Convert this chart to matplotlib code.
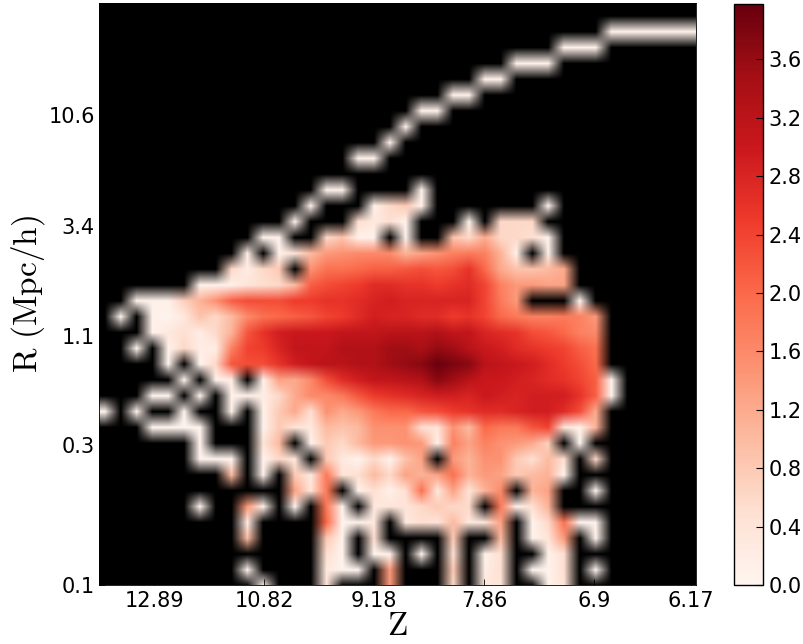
import numpy as np
import matplotlib
matplotlib.use("Agg")
import matplotlib.pyplot as plt

plt.rcParams["mathtext.fontset"] = "cm"

W = 804.0
H = 644.0

_ = np.nan
e = [_]

# log density, rows top to bottom, columns left to right
rows = [
    [],
    [],
    e * 32 + [.1, .1, .1, .1, .1, .1],
    e * 29 + [.1, .1, .1],
    e * 26 + [.1, .1, .1],
    e * 24 + [.1, .1],
    e * 22 + [.1, .1],
    e * 20 + [.1, .1],
    e * 19 + [.1],
    e * 18 + [.1],
    e * 16 + [.1, .1],
    [],
    e * 14 + [.1, .1, _, _, _, _, .1],
    e * 13 + [.1, _, _, _, .1, .6, .8, .1, _, _, _, _, _, _, _, .1],
    e * 12 + [.1, _, _, _, .5, .3, .5, .1, _, _, _, .1, _, .6, .6, .6],
    e * 10 + [.1, .1, _, _, .6, .9, .1, .1, _, .1, _, _, .9, .6, 1.2, .6, .6, .5, .1],
    e * 9 + [.2, _, .1, .4, 1.0, 1.4, 1.5, 1.6, 1.6, 1.6, 1.1, 1.3, 1.5, 1.7, 1.8, 1.7, 1.1, .1, _, .1],
    e * 8 + [.6, .2, .6, .8, _, 1.5, 1.9, 1.9, 2.0, 2.1, 2.1, 2.2, 2.3, 2.2, 2.3, 2.6, 2.0, 1.2, .9, .9, 1.0, 1.2],
    e * 6 + [.1, .1, .1, .4, .5, .6, 1.0, 2.1, 2.3, 2.4, 2.5, 2.7, 2.7, 2.6, 2.6, 2.5, 2.6, 2.7, 2.4, 1.7, 1.4, 1.4, 1.3, 1.3],
    e * 2 + [.1, .1, .1, .7, 1.1, 1.5, 2.1, 2.3, 2.3, 2.3, 2.5, 2.5, 2.6, 2.6, 2.7, 2.8, 2.9, 2.8, 2.8, 2.8, 2.8, 2.8, 2.4, 1.8, 1.4, _, _, _, .05],
    e * 1 + [.05, _, .1, .05, .3, .9, .6, 1.0, 1.6, 1.9, 2.0, 2.1, 2.2, 2.4, 2.5, 2.7, 2.9, 2.8, 2.8, 2.7, 2.7, 2.5, 2.6, 2.4, 2.0, 1.8, 1.7, 1.7, 1.8, 1.7, 1.4],
    e * 3 + [.1, .3, .5, .2, .6, 1.1, 2.2, 2.6, 2.9, 3.0, 3.0, 3.0, 3.1, 3.1, 3.1, 3.2, 3.2, 3.2, 3.3, 3.1, 3.1, 2.8, 2.7, 2.6, 2.3, 2.2, 2.0, 1.7, 1.6],
    e * 2 + [.05, _, .1, .6, .2, .2, 1.7, 2.4, 2.5, 2.8, 3.1, 3.1, 3.1, 3.3, 3.3, 3.3, 3.5, 3.5, 3.4, 3.6, 3.5, 3.2, 3.0, 2.9, 2.7, 2.6, 2.5, 2.4, 2.1, 1.9],
    e * 4 + [.05, _, .05, .6, 2.2, 2.3, 2.3, 2.6, 2.9, 3.1, 3.2, 3.2, 3.3, 3.3, 3.5, 3.6, 3.7, 3.95, 3.8, 3.7, 3.2, 3.1, 3.0, 2.9, 2.7, 2.5, 2.3, 2.0],
    e * 5 + [.05, _, .1, .2, _, .1, 1.3, 1.2, 1.6, 2.3, 2.7, 2.9, 3.1, 3.1, 3.2, 3.3, 3.7, 3.5, 3.2, 3.0, 3.0, 2.9, 2.8, 2.7, 2.6, 2.4, 2.1, .05],
    e * 3 + [.05, .05, _, .05, _, .1, .1, .2, .6, 1.2, 1.6, 1.6, 1.8, 2.2, 2.5, 2.6, 2.7, 2.8, 2.9, 2.9, 2.8, 3.0, 2.9, 2.8, 2.9, 2.9, 2.9, 2.6, 2.1, .05],
    [.05, _, .05, _, _, .05, _, _, .1, _, .1, .8, 1.2, .5, 1.5, 1.2, 1.4, 1.8, 2.0, 2.0, 2.2, 2.3, 2.5, 2.6, 2.7, 2.7, 2.8, 2.9, 2.9, 2.7, 2.3, 1.2],
    e * 3 + [.05, .05, .05, .05, _, _, _, .1, .8, .4, .3, 1.0, .9, 1.0, 1.5, 1.5, 1.5, .5, .4, 1.5, 1.0, 2.0, 1.8, 1.8, 2.2, 2.4, .4, .1, 1.1],
    e * 6 + [.05, _, _, _, .4, 1.0, _, .1, .8, .6, 1.0, 1.4, 1.4, 1.5, 1.4, .1, 1.7, 1.3, 1.7, 1.5, 1.4, 1.2, .7, _, .05],
    e * 6 + [.05, .05, .05, _, .05, .6, .3, _, .8, .3, .05, .6, .05, .9, 1.3, _, 1.4, 1.1, 1.5, 1.5, .8, .5, 1.0, .5, _, .6],
    e * 8 + [1.0, _, .1, _, .8, .3, 1.8, .4, .5, 1.0, .6, 1.3, 1.1, 1.3, 1.9, 1.1, 1.4, 1.3, .8, 1.0, 1.1, .05],
    e * 12 + [1.3, .4, 1.8, _, .1, .5, .1, .5, 1.9, .3, 1.3, .4, 1.1, 1.6, _, 1.1, 1.3, _, _, .05],
    e * 6 + [.05, _, _, 1.4, .1, _, .05, _, 1.8, .1, _, .3, .4, .4, .6, .8, .6, .6, _, 1.8, .1, .5, 1.1],
    e * 9 + [.2, _, _, _, _, 2.0, .05, .1, .3, _, .3, .5, .4, 1.0, .3, .4, 1.3, _, .05, .6, 1.9, .05, .1],
    e * 9 + [1.0, _, _, _, _, .8, .1, _, .5, _, _, _, _, .8, _, _, 1.0, _, .1, .4, 1.4, _, .05],
    e * 14 + [.5, .05, _, .05, .1, _, .05, _, .5, _, .1, .5, _, _, .1, .5],
    e * 9 + [.05, _, _, _, _, .3, .05, .05, _, 1.4, _, _, _, .8, _, .2, .5, _, .05, .05, .5, _, .05],
    e * 10 + [.05, _, _, _, .4, _, _, _, 1.4, _, _, _, .6, _, .3, .4, _, _, .1, .4],
]

z_ticks = [3.1, 10.04, 16.99, 23.94, 30.89, 37.0]
z_labels = ["12.89", "10.82", "9.18", "7.86", "6.9", "6.17"]
r_ticks = [7.25, 14.26, 21.21, 28.1, 36.95]
r_labels = ["10.6", "3.4", "1.1", "0.3", "0.1"]
cbar_ticks = [0.0, 0.4, 0.8, 1.2, 1.6, 2.0, 2.4, 2.8, 3.2, 3.6]

density = np.full((38, 38), np.nan)
for t, row in enumerate(rows):
    density[t, :len(row)] = row

cmap = plt.get_cmap("Reds").copy()
cmap.set_bad("black")

fig = plt.figure(figsize=(W / 100, H / 100), dpi=100)
ax = fig.add_axes([99 / W, 1 - 585 / H, 597 / W, 582 / H])
im = ax.imshow(np.ma.masked_invalid(density), cmap=cmap, vmin=0, vmax=3.98,
               aspect="auto", interpolation="bilinear", interpolation_stage="rgba")
ax.set_xlim(-0.38, 37.33)
ax.set_ylim(36.95, 0.18)

ax.set_xticks(z_ticks)
ax.set_xticklabels(z_labels)
ax.set_yticks(r_ticks)
ax.set_yticklabels(r_labels)
ax.tick_params(direction="in", length=4, width=0.6, labelsize=15)
ax.tick_params(axis="x", pad=4)
ax.tick_params(axis="y", pad=3)
ax.set_xlabel(r"$\mathrm{Z}$", fontsize=24, labelpad=-1)
ax.set_ylabel(r"$\mathrm{R\ (Mpc/h)}$", fontsize=24, va="center")
ax.yaxis.set_label_coords(-0.119, 0.5)
for s in ax.spines.values():
    s.set_linewidth(0.6)

cax = fig.add_axes([734 / W, 1 - 585 / H, 29 / W, 581 / H])
cb = fig.colorbar(im, cax=cax, ticks=cbar_ticks)
cb.ax.set_yticklabels(["%.1f" % v for v in cbar_ticks])
cb.ax.tick_params(direction="in", length=5, width=0.8, labelsize=15, pad=4)
cb.outline.set_linewidth(1.0)

fig.savefig("out.png", dpi=100)
